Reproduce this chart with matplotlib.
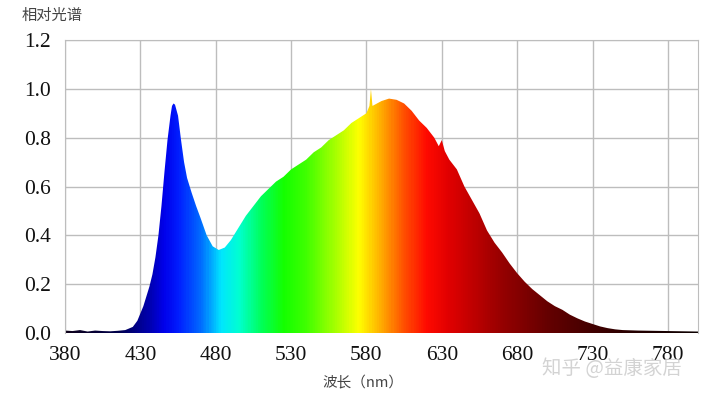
import matplotlib
matplotlib.use("Agg")
import matplotlib.pyplot as plt
from matplotlib.colors import LinearSegmentedColormap
from matplotlib.patches import Polygon
import numpy as np

# spectrum (nm, relative value)
wavelength = [380, 385, 390, 395, 400, 405, 410, 415, 420, 425, 428, 432, 436, 438,
              440, 442, 444, 446, 448, 450, 451, 452, 453, 455, 457, 459, 461, 464,
              467, 470, 474, 478, 482, 486, 490, 495, 500, 505, 510, 515, 520, 525,
              530, 535, 540, 545, 550, 555, 560, 565, 570, 575, 580, 582, 583, 584,
              587, 590, 595, 600, 605, 610, 615, 620, 625, 628, 630, 632, 635, 640,
              645, 650, 655, 660, 665, 670, 675, 680, 685, 690, 695, 700, 705, 710,
              715, 720, 725, 730, 735, 740, 745, 750, 760, 770, 780, 790, 800]
intensity = [0.010, 0.008, 0.012, 0.006, 0.010, 0.008, 0.007, 0.009, 0.012, 0.025,
             0.05, 0.11, 0.19, 0.24, 0.31, 0.40, 0.52, 0.66, 0.79, 0.89, 0.93, 0.94,
             0.935, 0.89, 0.79, 0.70, 0.635, 0.575, 0.52, 0.47, 0.40, 0.355, 0.34,
             0.35, 0.38, 0.43, 0.48, 0.52, 0.56, 0.59, 0.62, 0.64, 0.67, 0.69, 0.71,
             0.74, 0.76, 0.79, 0.81, 0.83, 0.86, 0.88, 0.90, 0.93, 1.00, 0.93, 0.94,
             0.95, 0.96, 0.955, 0.94, 0.91, 0.87, 0.84, 0.80, 0.765, 0.79, 0.745,
             0.71, 0.67, 0.60, 0.545, 0.49, 0.42, 0.37, 0.33, 0.285, 0.245, 0.21,
             0.18, 0.155, 0.13, 0.11, 0.095, 0.075, 0.06, 0.047, 0.037, 0.027, 0.02,
             0.015, 0.012, 0.010, 0.009, 0.008, 0.007, 0.006]

x_ticks = [380, 430, 480, 530, 580, 630, 680, 730, 780]
y_ticks = [0.0, 0.2, 0.4, 0.6, 0.8, 1.0, 1.2]

# wavelength -> colour anchors for the rainbow fill
color_stops = [
    (380, (0.05, 0.0, 0.10)), (415, (0.0, 0.0, 0.30)), (425, (0.0, 0.0, 0.50)),
    (435, (0.0, 0.0, 0.68)), (445, (0.0, 0.0, 0.92)), (455, (0.0, 0.12, 1.0)),
    (470, (0.0, 0.43, 1.0)), (483, (0.0, 0.90, 1.0)), (495, (0.0, 1.0, 0.82)),
    (510, (0.0, 1.0, 0.35)), (525, (0.08, 1.0, 0.0)), (540, (0.25, 1.0, 0.0)),
    (560, (0.67, 1.0, 0.0)), (575, (1.0, 1.0, 0.0)), (590, (1.0, 0.67, 0.0)),
    (605, (1.0, 0.31, 0.0)), (620, (1.0, 0.04, 0.0)), (635, (0.88, 0.0, 0.0)),
    (650, (0.76, 0.0, 0.0)), (670, (0.59, 0.0, 0.0)), (700, (0.40, 0.0, 0.0)),
    (730, (0.26, 0.0, 0.0)), (760, (0.14, 0.0, 0.0)), (800, (0.05, 0.0, 0.0)),
]
lo, hi = color_stops[0][0], color_stops[-1][0]
cmap = LinearSegmentedColormap.from_list(
    "spectrum", [((w - lo) / (hi - lo), c) for w, c in color_stops])

fig = plt.figure(figsize=(7.04, 3.95), dpi=100)
ax = fig.add_axes([65 / 704, 1 - 333 / 395, 633 / 704, 293 / 395])

ax.set_xlim(380, 800)
ax.set_ylim(0, 1.2)

grad = np.linspace(0, 1, 800).reshape(1, -1)
im = ax.imshow(grad, cmap=cmap, aspect="auto", extent=(380, 800, 0, 1.2),
               origin="lower", zorder=2, interpolation="bilinear")
verts = [(wavelength[0], 0)] + list(zip(wavelength, intensity)) + [(wavelength[-1], 0)]
poly = Polygon(verts, closed=True, facecolor="none", edgecolor="none",
               transform=ax.transData)
ax.add_patch(poly)
im.set_clip_path(poly)

ax.set_xticks(x_ticks)
ax.set_yticks(y_ticks)
ax.set_xticklabels([str(v) for v in x_ticks])
ax.set_yticklabels([f"{v:.1f}" for v in y_ticks])
ax.tick_params(length=0, labelsize=15.5, colors="#111111")
ax.tick_params(axis="y", pad=10)
ax.tick_params(axis="x", pad=9)
for lab in ax.get_xticklabels() + ax.get_yticklabels():
    lab.set_family("Liberation Serif")

ax.grid(True, color="#bdbdbd", linewidth=1.0, zorder=1)
ax.set_axisbelow(True)
ax.get_ygridlines()[0].set_visible(False)
for side in ["left", "top", "right"]:
    ax.spines[side].set_color("#bdbdbd")
ax.spines["bottom"].set_visible(False)

cjk = ["Noto Sans CJK SC", "DejaVu Sans"]
fig.text(22 / 704, 1 - 15 / 395, "相对光谱", family=cjk, fontsize=11,
         color="#444444", va="center", ha="left")
fig.text(363 / 704, 1 - 383 / 395, "波长（nm）", family=cjk, fontsize=10.5,
         color="#444444", va="center", ha="center")
# watermark sits over the last tick labels, as in the reference
fig.text(612 / 704, 1 - 369 / 395, "知乎 @益康家居", family=cjk, fontsize=14,
         color="#cfcfcf", alpha=0.9, va="center", ha="center", zorder=10)

fig.savefig("out.png", dpi=100)
